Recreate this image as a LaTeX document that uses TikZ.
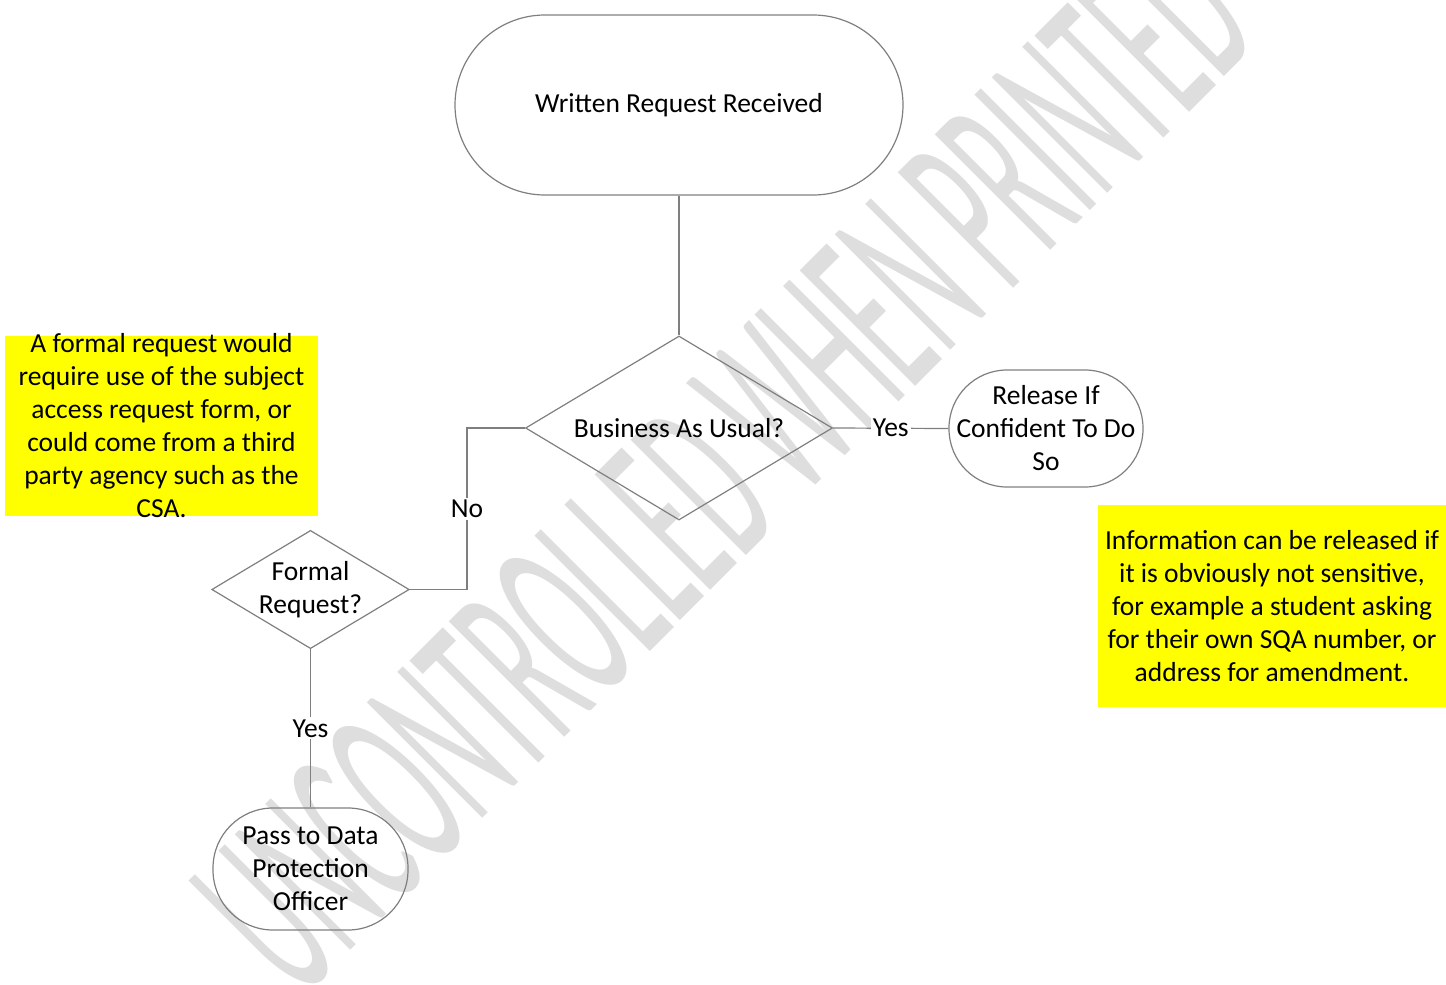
\documentclass[tikz,border=0pt]{standalone}
\usepackage{fontspec}
\setmainfont{Carlito}
\usetikzlibrary{shapes.geometric}
\definecolor{wm}{HTML}{DEDEDE}
\definecolor{ln}{HTML}{7F7F7F}
\definecolor{note}{HTML}{FFFF00}
\begin{document}
\begin{tikzpicture}[x=1pt,y=-1pt,
  txt/.style={font=\fontsize{27.5}{33}\selectfont, text=black, align=center},
  term/.style={txt, draw=ln, line width=1.2pt, rectangle, inner sep=0pt},
  decision/.style={txt, draw=ln, line width=1.2pt, diamond, inner sep=0pt},
  conn/.style={draw=ln, line width=1.2pt},
  lbl/.style={txt, fill=white, inner sep=2pt},
  notebox/.style={fill=note, draw=none, inner sep=0pt},
  wmark/.style={text=wm, font=\fontsize{100}{100}\selectfont, inner sep=0pt, transform shape}]
\useasboundingbox (0,0) rectangle (1446,985);
% watermark
\begin{scope}[cm={0.72,0.72,-1.80,1.80,(724,462)}]
  \node[wmark] (wm) at (0,0) {UNCONTROLLED WHEN PRINTED};
\end{scope}
% notes
\node[notebox, minimum width=313, minimum height=180] (noteL) at (161.5,426) {};
\node[txt] (noteLt) at (161.5,426) {A formal request would\\require use of the subject\\access request form, or\\could come from a third\\party agency such as the\\CSA.};
\node[notebox, minimum width=348, minimum height=202] (noteR) at (1272,606) {};
\node[txt] (noteRt) at (1272,606) {Information can be released if\\it is obviously not sensitive,\\for example a student asking\\for their own SQA number, or\\address for amendment.};
% flow nodes
\node[term, minimum width=448, minimum height=180, rounded corners=90] (start) at (679,105) {Written Request Received};
\node[decision, minimum width=307, minimum height=184, aspect=1.67] (bau) at (679,428) {Business As Usual?};
\node[term, minimum width=194, minimum height=117, rounded corners=58] (rel) at (1046,428.5) {Release If\\Confident To Do\\So};
\node[decision, minimum width=195, minimum height=117, aspect=1.67] (formal) at (310.5,589.5) {Formal\\Request?};
\node[term, minimum width=195, minimum height=122, rounded corners=60] (dpo) at (310.5,869) {Pass to Data\\Protection\\Officer};
\coordinate (nobend) at (467,428);
% connectors
\draw[conn] (start) -- (bau);
\draw[conn] (bau.east) -- node[lbl] {Yes} (rel.west);
\draw[conn] (bau.west) -- (nobend) |- node[lbl, pos=0.25] {No} (formal.east);
\draw[conn] (formal.south) -- node[lbl] {Yes} (dpo.north);
\end{tikzpicture}
\end{document}
